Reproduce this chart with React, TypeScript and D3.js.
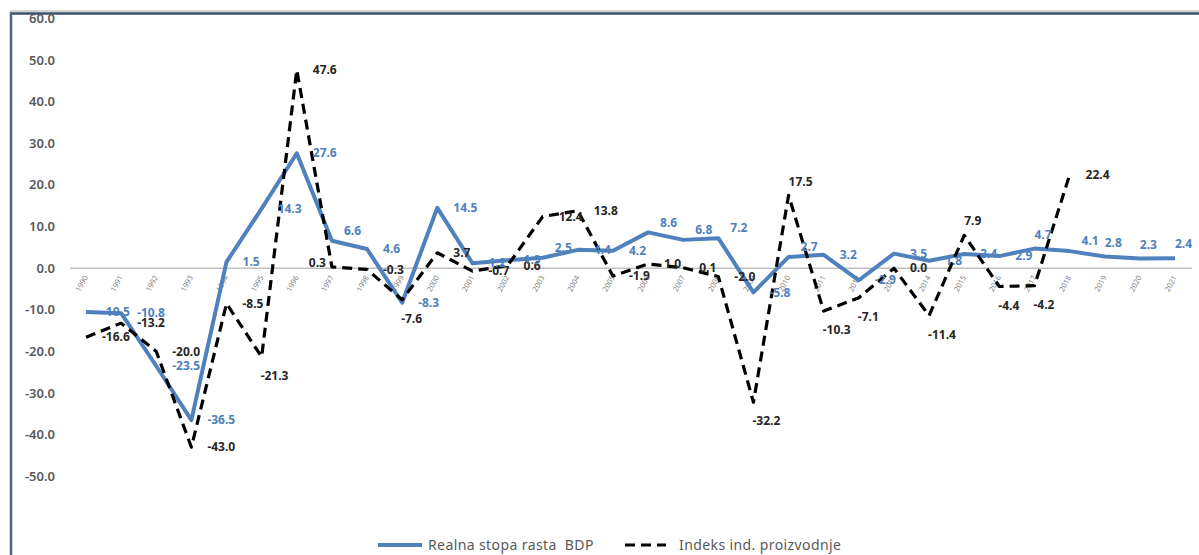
import * as d3 from 'd3';

// godine, realna stopa rasta BDP i indeks industrijske proizvodnje
const years = ['1990', '1991', '1992', '1993', '1994', '1995', '1996', '1997', '1998', '1999',
    '2000', '2001', '2002', '2003', '2004', '2005', '2006', '2007', '2008', '2009',
    '2010', '2011', '2012', '2013', '2014', '2015', '2016', '2017', '2018', '2019',
    '2020', '2021'];

const gdp = [-10.5, -10.8, -23.5, -36.5, 1.5, 14.3, 27.6, 6.6, 4.6, -8.3,
    14.5, 1.2, 1.9, 2.5, 4.4, 4.2, 8.6, 6.8, 7.2, -5.8,
    2.7, 3.2, -2.9, 3.5, 1.8, 3.4, 2.9, 4.7, 4.1, 2.8,
    2.3, 2.4];

const industry: (number | null)[] = [-16.6, -13.2, -20.0, -43.0, -8.5, -21.3, 47.6, 0.3, -0.3, -7.6,
    3.7, -0.7, 0.6, 12.4, 13.8, -1.9, 1.0, 0.1, -2.0, -32.2,
    17.5, -10.3, -7.1, 0.0, -11.4, 7.9, -4.4, -4.2, 22.4, null,
    null, null];

const yTicks = [60, 50, 40, 30, 20, 10, 0, -10, -20, -30, -40, -50];

// gdje stoji oznaka vrijednosti: r = desno, ar = gore desno, a = gore, b = dolje, l = lijevo
const gdpLabelPos = ['r', 'r', 'r', 'r', 'r', 'r', 'r', 'ar', 'r', 'r',
    'r', 'r', 'r', 'ar', 'r', 'r', 'ar', 'ar', 'ar', 'r',
    'ar', 'r', 'r', 'r', 'r', 'r', 'r', 'a', 'ar', 'a',
    'a', 'a'];
const indLabelPos = ['r', 'r', 'r', 'r', 'r', 'b', 'r', 'l', 'r', 'b',
    'r', 'r', 'r', 'r', 'r', 'r', 'r', 'r', 'r', 'b',
    'a', 'b', 'b', 'r', 'b', 'a', 'b', 'b', 'r', 'r',
    'r', 'r'];

const BLUE = '#4f81bd';
const FONT = '"Noto Sans", "Open Sans", sans-serif';

const labelAttrs = (pos: string, x: number, y: number) => {
    switch (pos) {
        case 'ar': return { x: x + 12, y: y - 10, anchor: 'start' };
        case 'a': return { x: x, y: y - 14, anchor: 'start' };
        case 'b': return { x: x - 1, y: y + 19, anchor: 'start' };
        case 'l': return { x: x - 6, y: y - 4, anchor: 'end' };
        default: return { x: x + 16, y: y, anchor: 'start' };
    }
};

const App = () => {
    const width = 1199, height = 555;

    const x = d3.scalePoint<string>().domain(years).range([86, 1175]);
    const y = d3.scaleLinear().domain([-70, 60]).range([559.6, 18.4]);

    const gdpLine = d3.line<number>()
        .x((_, i) => x(years[i])!)
        .y(d => y(d));

    const indLine = d3.line<number | null>()
        .defined(d => d !== null)
        .x((_, i) => x(years[i])!)
        .y(d => y(d as number));

    return (
        <div style={{ position: 'absolute', left: 0, top: 0 }}>
            <svg width={width} height={height} style={{ display: 'block', background: '#fff' }}>
                {/* okvir */}
                <line x1={10} x2={width} y1={11} y2={11} stroke="#a6a6a6" strokeWidth={1} />
                <line x1={10} x2={width} y1={13.5} y2={13.5} stroke="#3d4f6e" strokeWidth={2.5} />
                <line x1={11} x2={11} y1={12} y2={height} stroke="#55647e" strokeWidth={2.5} />

                {/* y osa */}
                {yTicks.map(t => (
                    <text key={t} x={55} y={y(t)} dy="0.35em" textAnchor="end"
                        fontFamily={FONT} fontSize={13} fontWeight={600} fill="#595959">
                        {t.toFixed(1)}
                    </text>
                ))}

                {/* nulta linija */}
                <line x1={70} x2={1192} y1={y(0)} y2={y(0)} stroke="#bfbfbf" strokeWidth={1.5} />

                {/* godine */}
                {years.map(yr => (
                    <text key={yr} transform={`translate(${x(yr)! + 2},${y(0) + 9}) rotate(-62)`}
                        textAnchor="end" fontFamily={FONT} fontSize={7.5} fill="#7f7f7f">
                        {yr}
                    </text>
                ))}

                <path d={gdpLine(gdp)!} fill="none" stroke={BLUE} strokeWidth={4} strokeLinejoin="round" />
                <path d={indLine(industry)!} fill="none" stroke="#000" strokeWidth={3.2}
                    strokeDasharray="10,6" strokeLinejoin="round" />

                {/* oznake vrijednosti */}
                {industry.map((v, i) => {
                    if (v === null) return null;
                    const a = labelAttrs(indLabelPos[i], x(years[i])!, y(v));
                    return (
                        <text key={'i' + i} x={a.x} y={a.y} dy="0.35em" textAnchor={a.anchor}
                            fontFamily={FONT} fontSize={12} fontWeight={700} fill="#262626">
                            {v.toFixed(1)}
                        </text>
                    );
                })}
                {gdp.map((v, i) => {
                    const a = labelAttrs(gdpLabelPos[i], x(years[i])!, y(v));
                    return (
                        <text key={'g' + i} x={a.x} y={a.y} dy="0.35em" textAnchor={a.anchor}
                            fontFamily={FONT} fontSize={12} fontWeight={700} fill={BLUE}>
                            {v.toFixed(1)}
                        </text>
                    );
                })}

                {/* legenda */}
                <line x1={378} x2={422} y1={545} y2={545} stroke={BLUE} strokeWidth={4} />
                <text x={428} y={545} dy="0.35em" fontFamily={FONT} fontSize={14} letterSpacing={0.4}
                    fill="#595959" style={{ whiteSpace: 'pre' }}>
                    {'Realna stopa rasta  BDP'}
                </text>
                <line x1={625} x2={666} y1={545} y2={545} stroke="#000" strokeWidth={3.2} strokeDasharray="10,6" />
                <text x={679} y={545} dy="0.35em" fontFamily={FONT} fontSize={14} letterSpacing={0.4}
                    fill="#595959">
                    Indeks ind. proizvodnje
                </text>
            </svg>
        </div>
    );
};

export default App;
